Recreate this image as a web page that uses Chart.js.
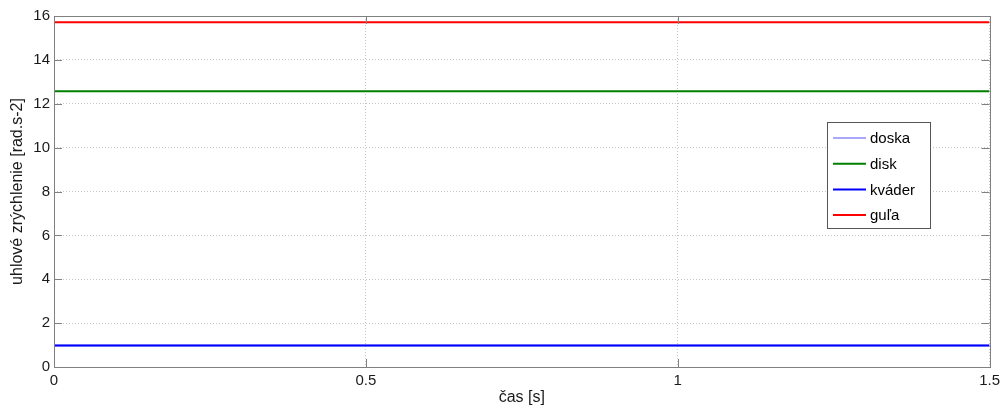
<!DOCTYPE html>
<html>
<head>
<meta charset="utf-8">
<script src="https://cdn.jsdelivr.net/npm/chart.js@4"></script>
<style>
  html, body { margin: 0; padding: 0; background: #fff; }
  #wrap { width: 1005px; height: 410px; }
</style>
</head>
<body>
<div id="wrap"><canvas id="myChart" width="1005" height="410"></canvas></div>
<script>
// time axis [s]
const times = [0, 0.5, 1, 1.5];
// angular acceleration [rad.s-2]
const doska = [0.98, 0.98, 0.98, 0.98];
const disk = [12.57, 12.57, 12.57, 12.57];
const kvader = [0.98, 0.98, 0.98, 0.98];
const gula = [15.71, 15.71, 15.71, 15.71];

const seriesNames = ['doska', 'disk', 'kváder', 'guľa'];
const seriesColors = ['#a8a8ff', '#008000', '#0000ff', '#ff0000'];

const xTicks = [0, 0.5, 1, 1.5];
const yTicks = [0, 2, 4, 6, 8, 10, 12, 14, 16];

const FONT = 'Liberation Sans, Arial, sans-serif';

function toPoints(vals) {
    return times.map((t, i) => ({ x: t, y: vals[i] }));
}

// box around plot, inward ticks and the legend (matlab look)
const matlabBox = {
    id: 'matlabBox',
    afterDatasetsDraw(chart) {
        const { ctx, chartArea: a, scales } = chart;
        ctx.save();
        ctx.strokeStyle = '#808080';
        ctx.lineWidth = 1;
        ctx.setLineDash([]);
        ctx.beginPath();
        xTicks.forEach((v) => {
            const x = Math.round(scales.x.getPixelForValue(v)) + 0.5;
            ctx.moveTo(x, a.bottom); ctx.lineTo(x, a.bottom - 8);
            ctx.moveTo(x, a.top); ctx.lineTo(x, a.top + 8);
        });
        yTicks.forEach((v) => {
            const y = Math.round(scales.y.getPixelForValue(v)) + 0.5;
            ctx.moveTo(a.left, y); ctx.lineTo(a.left + 8, y);
            ctx.moveTo(a.right, y); ctx.lineTo(a.right - 8, y);
        });
        ctx.stroke();
        ctx.strokeRect(Math.round(a.left) + 0.5, Math.round(a.top) + 0.5,
            Math.round(a.right - a.left), Math.round(a.bottom - a.top));

        // legend
        const lx = 827, ly = 122, lw = 103, lh = 106;
        ctx.fillStyle = '#fff';
        ctx.fillRect(lx, ly, lw, lh);
        ctx.strokeStyle = '#555';
        ctx.strokeRect(lx + 0.5, ly + 0.5, lw, lh);
        ctx.font = '15px ' + FONT;
        ctx.textBaseline = 'middle';
        ctx.lineWidth = 2;
        seriesNames.forEach((name, i) => {
            const y = 138 + i * 25.7;
            ctx.strokeStyle = seriesColors[i];
            ctx.beginPath();
            ctx.moveTo(833, y); ctx.lineTo(866, y);
            ctx.stroke();
            ctx.fillStyle = '#000';
            ctx.fillText(name, 870, y + 1);
        });
        ctx.restore();
    }
};

const ctx = document.getElementById('myChart').getContext('2d');
new Chart(ctx, {
    type: 'line',
    data: {
        datasets: [
            { label: seriesNames[0], data: toPoints(doska), borderColor: seriesColors[0], order: 1 },
            { label: seriesNames[1], data: toPoints(disk), borderColor: seriesColors[1], order: 0 },
            { label: seriesNames[2], data: toPoints(kvader), borderColor: seriesColors[2], order: 0 },
            { label: seriesNames[3], data: toPoints(gula), borderColor: seriesColors[3], order: 0 },
        ],
    },
    options: {
        responsive: false,
        animation: false,
        devicePixelRatio: 1,
        layout: { padding: { top: 16, right: 13, left: 0, bottom: 0 } },
        elements: {
            point: { radius: 0 },
            line: { borderWidth: 2, tension: 0 },
        },
        plugins: {
            legend: { display: false },
            tooltip: { enabled: false },
        },
        scales: {
            x: {
                type: 'linear',
                min: 0,
                max: 1.5,
                afterBuildTicks: (s) => { s.ticks = xTicks.map((v) => ({ value: v })); },
                afterFit: (s) => { s.height = 43; },
                ticks: {
                    color: '#1a1a1a',
                    font: { family: FONT, size: 15 },
                    padding: 5,
                    maxRotation: 0,
                    callback: (v) => String(v),
                },
                grid: { color: '#c8c8c8', drawTicks: false },
                border: { display: false, dash: [1, 2] },
                title: {
                    display: true,
                    text: 'čas [s]',
                    color: '#1a1a1a',
                    font: { family: FONT, size: 16 },
                    padding: { top: 0, bottom: 3 },
                },
            },
            y: {
                type: 'linear',
                min: 0,
                max: 16,
                afterBuildTicks: (s) => { s.ticks = yTicks.map((v) => ({ value: v })); },
                afterFit: (s) => { s.width = 54; },
                ticks: {
                    color: '#1a1a1a',
                    font: { family: FONT, size: 15 },
                    padding: 4,
                },
                grid: { color: '#c8c8c8', drawTicks: false },
                border: { display: false, dash: [1, 2] },
                title: {
                    display: true,
                    text: 'uhlové zrýchlenie [rad.s-2]',
                    color: '#1a1a1a',
                    font: { family: FONT, size: 16 },
                    padding: { top: 8, bottom: 0 },
                },
            },
        },
    },
    plugins: [matlabBox],
});
</script>
</body>
</html>
